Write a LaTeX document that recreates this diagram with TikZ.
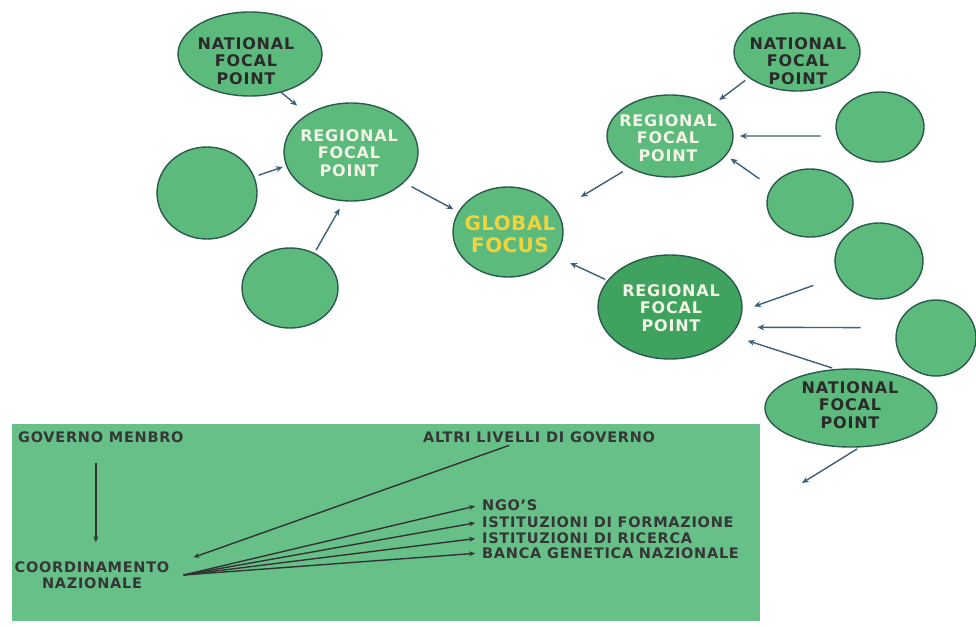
\documentclass[tikz,border=0pt]{standalone}
\usepackage{fontspec}
\setmainfont{DejaVu Sans}
\usetikzlibrary{shapes.geometric,arrows.meta}
\definecolor{ellfill}{HTML}{5CBA7C}
\definecolor{ellfilldark}{HTML}{3FA25F}
\definecolor{ellline}{HTML}{2B5B4C}
\definecolor{panelcol}{HTML}{67C088}
\definecolor{arrcol}{HTML}{3D5F7A}
\definecolor{bline}{HTML}{333333}
\definecolor{natcol}{HTML}{2A2A2A}
\definecolor{regcol}{HTML}{F4F4E6}
\definecolor{globcol}{HTML}{F2D33A}
\definecolor{btext}{HTML}{363636}
\begin{document}
\begin{tikzpicture}[x=1pt,y=-1pt,
  ell/.style={ellipse, draw=ellline, line width=1.4pt, fill=ellfill, inner sep=0pt, outer sep=0pt},
  lbl/.style={font=\bfseries\fontsize{16}{17.5}\selectfont\addfontfeatures{LetterSpace=5}, align=center, inner sep=0pt},
  glbl/.style={font=\bfseries\fontsize{20}{22}\selectfont\addfontfeatures{LetterSpace=2}, align=center, inner sep=0pt, text=globcol},
  arr/.style={draw=arrcol, line width=1.4pt, -{Stealth[length=7pt,width=6pt]}},
  btxt/.style={font=\bfseries\fontsize{14.5}{16}\selectfont\addfontfeatures{LetterSpace=5}, text=btext, inner sep=2pt},
  barr/.style={draw=bline, line width=1.4pt, -{Stealth[length=6pt,width=5pt]}}]
\useasboundingbox (0,0) rectangle (976,626);

% ---- ellipses, left cluster
\node[ell, minimum width=144pt, minimum height=84pt] (n1) at (250,54) {};
\node[ell, minimum width=134pt, minimum height=98pt] (r1) at (351,152) {};
\node[ell, minimum width=100pt, minimum height=92pt] (b1) at (207,193) {};
\node[ell, minimum width=96pt, minimum height=80pt] (b2) at (290,288) {};
\node[ell, minimum width=110pt, minimum height=90pt] (g) at (508,232) {};
% ---- right cluster
\node[ell, minimum width=126pt, minimum height=78pt] (n2) at (797,52) {};
\node[ell, minimum width=126pt, minimum height=82pt] (r2) at (670,136) {};
\node[ell, minimum width=88pt, minimum height=70pt] (c1) at (880,127) {};
\node[ell, minimum width=86pt, minimum height=68pt] (c2) at (810,203) {};
\node[ell, minimum width=88pt, minimum height=76pt] (c3) at (879,261) {};
\node[ell, minimum width=80pt, minimum height=76pt] (c4) at (936,338) {};
\node[ell, fill=ellfilldark, minimum width=144pt, minimum height=104pt] (r3) at (670,307) {};
\node[ell, minimum width=172pt, minimum height=78pt] (n3) at (851,408) {};

% ---- labels
\node[lbl, text=natcol] (n1t) at (246,61) {NATIONAL\\FOCAL\\POINT};
\node[lbl, text=regcol] (r1t) at (349,153) {REGIONAL\\FOCAL\\POINT};
\node[glbl] (gt) at (510,234) {GLOBAL\\FOCUS};
\node[lbl, text=natcol] (n2t) at (798,61) {NATIONAL\\FOCAL\\POINT};
\node[lbl, text=regcol] (r2t) at (668,138) {REGIONAL\\FOCAL\\POINT};
\node[lbl, text=regcol] (r3t) at (671,308) {REGIONAL\\FOCAL\\POINT};
\node[lbl, text=natcol] (n3t) at (850,405) {NATIONAL\\FOCAL\\POINT};

% ---- arrows
\draw[arr, shorten >=14pt] (n1.-51) -- (r1.139);
\draw[arr, shorten <=5pt, shorten >=4pt] (b1.19) -- (r1.-168);
\draw[arr, shorten <=4pt, shorten >=9pt] (b2.55) -- (r1.-98);
\draw[arr, shorten <=9pt, shorten >=6pt] (r1.-30) -- (g.158);
\draw[arr, shorten <=5pt, shorten >=9pt] (n2.-152) -- (r2.36);
\draw[arr, shorten <=17pt, shorten >=7pt] (c1.-168) -- (r2.0);
\draw[arr, shorten <=15pt, shorten >=6pt] (c2.158) -- (r2.-19);
\draw[arr, shorten <=8pt, shorten >=28pt] (r2.-142) -- (g.23);
\draw[arr, shorten <=3pt, shorten >=17pt] (r3.157) -- (g.-27);
\draw[arr, shorten <=27pt, shorten >=13pt] (c3.-159) -- (r3.-3);
\draw[arr, shorten <=37pt, shorten >=21pt] (c4.165.5) -- (r3.-17.7);
\draw[arr, shorten <=5pt, shorten >=18pt] (n3.110) -- (r3.-25);
\coordinate (nout) at (802,483);
\draw[arr, shorten <=4pt] (n3.-76) -- (nout);

% ---- bottom panel
\fill[panelcol] (12,424) rectangle (760,621);
\node[btxt, anchor=west] (gm) at (16,437) {GOVERNO MENBRO};
\node[btxt, anchor=west] (al) at (421,437) {ALTRI LIVELLI DI GOVERNO};
\node[btxt, anchor=west] (ngo) at (480,505) {NGO’S};
\node[btxt, anchor=west] (isf) at (480,522) {ISTITUZIONI DI FORMAZIONE};
\node[btxt, anchor=west] (isr) at (480,538) {ISTITUZIONI DI RICERCA};
\node[btxt, anchor=west] (bgn) at (480,553) {BANCA GENETICA NAZIONALE};
\node[btxt, align=center] (cn) at (92,575) {COORDINAMENTO\\NAZIONALE};

\draw[barr, shorten <=18pt, shorten >=17pt] ([xshift=-5pt]gm.south) -- ([xshift=-5pt]gm.south |- cn.north);
\draw[barr, shorten <=2pt] ([xshift=-28pt]al.south) -- ([xshift=22pt,yshift=2pt]cn.north east);
\draw[barr, shorten >=5pt] ([xshift=12pt]cn.east) -- (ngo.west);
\draw[barr, shorten >=5pt] ([xshift=12pt]cn.east) -- (isf.west);
\draw[barr, shorten >=5pt] ([xshift=12pt]cn.east) -- (isr.west);
\draw[barr, shorten >=5pt] ([xshift=12pt]cn.east) -- (bgn.west);
\end{tikzpicture}
\end{document}
